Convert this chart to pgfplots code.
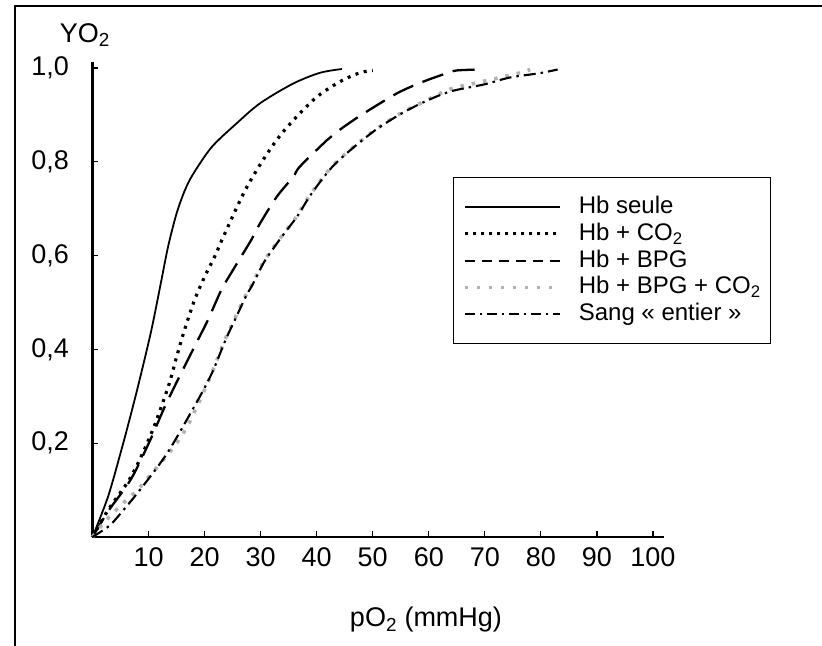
\documentclass[border=0pt]{standalone}
\usepackage{pgfplots}
\pgfplotsset{compat=1.18}
\usepackage{fontspec}
\setmainfont{Liberation Sans}
\begin{document}
\begin{tikzpicture}
\useasboundingbox (-92.5bp,-109bp) rectangle (729.5bp,537bp);
\begin{axis}[
  at={(0bp,0bp)}, anchor=south west,
  scale only axis, width=571.7bp, height=475bp,
  xmin=0, xmax=102, ymin=0, ymax=1.013,
  axis x line*=bottom, axis y line*=left,
  axis line style={line width=2.4bp},
  tick align=inside, major tick length=6bp,
  tick style={line width=1.2bp, black},
  xtick={10,20,...,100}, ytick={0.2,0.4,0.6,0.8,1.0},
  /pgf/number format/assume math mode=true,
  ticklabel style={font=\fontsize{27bp}{32bp}\selectfont},
  yticklabel style={/pgf/number format/use comma, /pgf/number format/fixed, /pgf/number format/fixed zerofill, /pgf/number format/precision=1, xshift=-20bp},
  xticklabel style={yshift=-7bp},
  xlabel={pO\textsubscript{2} (mmHg)},
  label style={font=\fontsize{27bp}{32bp}\selectfont},
  xlabel style={at={(axis cs:59.5,-0.177)}, anchor=center},
  clip=false,
  legend cell align=left,
  legend image code/.code={\draw[#1] (0bp,0bp) -- (95bp,0bp);},
  legend style={at={(axis cs:64.32,0.7676)}, anchor=north west, draw=black, line width=1.2bp,
    inner xsep=10bp, inner ysep=18bp, row sep=3.7bp,
    font=\fontsize{24bp}{28bp}\selectfont,
    nodes={inner sep=0pt, text height=18bp, text depth=5bp},
    /tikz/every odd column/.append style={column sep=17bp}},
]
% Hb seule
\addplot[black, line width=1.8bp, smooth, forget plot] coordinates {
(0,0) (2.77,0.086) (5.14,0.185) (6.9,0.264) (8.4,0.335) (10.5,0.441) (12.3,0.548) (13.5,0.62) (15.0,0.690) (16.5,0.74) (18.0,0.775) (21.3,0.832) (25.7,0.882) (29.9,0.925) (35.8,0.967) (40.6,0.990) (44.5,0.998)};
% Hb + CO2
\addplot[black, line width=3.2bp, dash pattern=on 3bp off 5.5bp, smooth, forget plot] coordinates {
(0,0) (2.8,0.058) (6.9,0.129) (10.5,0.221) (13.5,0.32) (15.0,0.384) (16.4,0.441) (18.2,0.505) (20.0,0.555) (21.8,0.598) (23.6,0.647) (27.8,0.752) (33.2,0.852) (39.4,0.932) (44,0.97) (47.7,0.99) (50.0,0.995)};
% Hb + BPG
\addplot[black, line width=2.3bp, dash pattern=on 22bp off 10bp, smooth, forget plot] coordinates {
(0,0) (2.8,0.055) (6.9,0.124) (10.5,0.212) (12.9,0.278) (15.8,0.349) (18.2,0.406) (20.6,0.463) (23.0,0.527) (25.4,0.576) (28.3,0.633) (29.9,0.669) (32.9,0.726) (35.8,0.768) (37.0,0.79) (41.8,0.846) (43.6,0.864) (47.7,0.898) (54.3,0.946) (59,0.971) (63.2,0.989) (65,0.995) (69,0.997)};
% Hb + BPG + CO2
\addplot[gray!60, line width=3.6bp, dash pattern=on 3.5bp off 8bp, smooth, forget plot] coordinates {
(0,0) (2,0.03) (4,0.055) (6,0.078) (8,0.1) (10.5,0.135) (12.9,0.168) (15.3,0.205) (17,0.238) (18.5,0.275) (20.3,0.322) (21.5,0.356) (23.6,0.42) (25.4,0.466) (27.2,0.512) (28.3,0.535) (30.4,0.584) (32.7,0.625) (34.3,0.65) (36.4,0.683) (38.8,0.729) (42.4,0.786) (45.9,0.825) (50.4,0.868) (54.9,0.903) (59.0,0.928) (63.8,0.955) (67.9,0.967) (72.4,0.979) (76.3,0.99) (78.1,0.997)};
% Sang entier
\addplot[black, line width=2.1bp, dash pattern=on 12bp off 5bp on 2.5bp off 5bp, smooth, forget plot] coordinates {
(0,0) (2.8,0.022) (4.5,0.043) (8.7,0.104) (13.5,0.182) (18.8,0.292) (20.5,0.33) (21.7,0.36) (23.8,0.422) (25.6,0.468) (27.4,0.514) (28.5,0.537) (30.6,0.586) (32.9,0.626) (34.5,0.652) (36.6,0.685) (39.0,0.731) (42.6,0.787) (46.1,0.826) (50.6,0.869) (55.1,0.903) (59.2,0.928) (63.8,0.95) (69.8,0.965) (74.5,0.98) (79.7,0.989) (83,0.997)};
\addlegendimage{black, line width=1.8bp}
\addlegendentry{Hb seule}
\addlegendimage{black, line width=3.2bp, dash pattern=on 3bp off 5bp}
\addlegendentry{Hb + CO\textsubscript{2}}
\addlegendimage{black, line width=2bp, dash pattern=on 10bp off 7bp}
\addlegendentry{Hb + BPG}
\addlegendimage{gray!60, line width=3bp, dash pattern=on 3bp off 9bp}
\addlegendentry{Hb + BPG + CO\textsubscript{2}}
\addlegendimage{black, line width=2bp, dash pattern=on 10bp off 5bp on 2bp off 5bp}
\addlegendentry{Sang « entier »}
\node[font=\fontsize{27bp}{32bp}\selectfont, inner sep=0pt] at (axis cs:-1.34,1.0704) {YO\textsubscript{2}};
\end{axis}
\draw[line width=1.5bp] (-77.5bp,-109bp) -- (-77.5bp,531bp) -- (729.5bp,531bp);
\end{tikzpicture}
\end{document}
